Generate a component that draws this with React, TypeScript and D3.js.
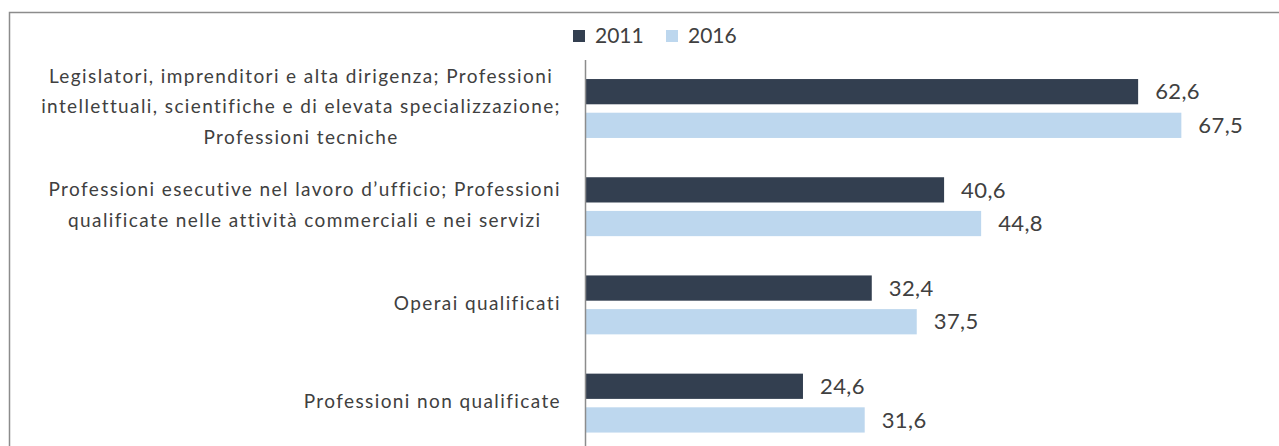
import React, { useRef, useEffect } from "react";
import * as d3 from "d3";

// category labels, already wrapped the way the chart shows them
const categoryLines = [
  [
    "Legislatori, imprenditori e alta dirigenza; Professioni",
    "intellettuali, scientifiche e di elevata specializzazione;",
    "Professioni tecniche",
  ],
  [
    "Professioni esecutive nel lavoro d\u2019ufficio; Professioni",
    "qualificate nelle attività commerciali e nei servizi",
  ],
  ["Operai qualificati"],
  ["Professioni non qualificate"],
];

const years = ["2011", "2016"];
const values2011 = [62.6, 40.6, 32.4, 24.6];
const values2016 = [67.5, 44.8, 37.5, 31.6];
const colors = ["#333f50", "#bdd7ee"];

const W = 1279;
const H = 446;

function App() {
  const svgRef = useRef(null);

  useEffect(() => {
    const svg = d3.select(svgRef.current);
    svg.selectAll("*").remove();

    const font = "Lato, 'Open Sans', sans-serif";
    const textColor = "#404040";

    // chart frame (cut off on the right and bottom)
    svg
      .append("rect")
      .attr("x", 9.5)
      .attr("y", 12.5)
      .attr("width", W + 20)
      .attr("height", H + 20)
      .attr("fill", "white")
      .attr("stroke", "#8c8c8c")
      .attr("stroke-width", 1.5);

    const keys = categoryLines.map((d, i) => i);

    const y = d3
      .scaleBand()
      .domain(keys)
      .range([59.4, 452.2])
      .paddingInner(0.4)
      .paddingOuter(0.2);

    const y1 = d3
      .scaleBand()
      .domain(years)
      .range([0, y.bandwidth()])
      .paddingInner(0.25);

    const x = d3.scaleLinear().domain([0, 80]).range([586, 586 + 80 * 8.82]);

    const rows = keys.map((k) => ({
      key: k,
      lines: categoryLines[k],
      values: [values2011[k], values2016[k]],
    }));

    // bars
    const groups = svg
      .selectAll(".group")
      .data(rows)
      .enter()
      .append("g")
      .attr("class", "group")
      .attr("transform", (d) => `translate(0, ${y(d.key)})`);

    groups
      .selectAll("rect")
      .data((d) => d.values.map((v, i) => ({ year: years[i], value: v, i })))
      .enter()
      .append("rect")
      .attr("x", x(0))
      .attr("y", (d) => y1(d.year))
      .attr("width", (d) => x(d.value) - x(0))
      .attr("height", y1.bandwidth())
      .style("fill", (d) => colors[d.i]);

    // value labels
    groups
      .selectAll("text.value")
      .data((d) => d.values.map((v, i) => ({ year: years[i], value: v })))
      .enter()
      .append("text")
      .attr("class", "value")
      .attr("x", (d) => x(d.value) + 17)
      .attr("y", (d) => y1(d.year) + y1.bandwidth() / 2)
      .attr("dy", "0.35em")
      .style("font-family", font)
      .style("font-size", "22px")
      .style("letter-spacing", "0.4px")
      .style("fill", textColor)
      .text((d) => d3.format(".1f")(d.value).replace(".", ","));

    // vertical axis line
    const yAxis = d3.axisLeft(y).tickSize(0).tickFormat(() => "");
    svg
      .append("g")
      .attr("class", "axis y-axis")
      .attr("transform", "translate(585, 0)")
      .call(yAxis)
      .call((g) => g.select(".domain").attr("stroke", "#8c8c8c").attr("stroke-width", 1.5));

    // category labels: lines centred on each other, block right-aligned near the axis
    const labelRight = 561;
    const lineH = 30.5;
    rows.forEach((row) => {
      const cy = y(row.key) + y.bandwidth() / 2 - 2;
      const n = row.lines.length;
      const t = svg
        .append("g")
        .selectAll("text")
        .data(row.lines)
        .enter()
        .append("text")
        .attr("y", (d, i) => cy + (i - (n - 1) / 2) * lineH)
        .attr("dy", "0.35em")
        .attr("text-anchor", "middle")
        .style("font-family", font)
        .style("font-size", "19px")
        .style("letter-spacing", "1.4px")
        .style("fill", textColor)
        .text((d) => d);
      let maxW = 0;
      t.each(function () {
        maxW = Math.max(maxW, this.getComputedTextLength());
      });
      t.attr("x", labelRight - maxW / 2);
    });

    // legend
    const legend = svg
      .selectAll(".legend")
      .data(years)
      .enter()
      .append("g")
      .attr("class", "legend")
      .attr("transform", (d, i) => `translate(${573 + i * 93}, 36)`);

    legend
      .append("rect")
      .attr("x", 0)
      .attr("y", -6)
      .attr("width", 12)
      .attr("height", 12)
      .style("fill", (d, i) => colors[i]);

    legend
      .append("text")
      .attr("x", 22)
      .attr("y", 0)
      .attr("dy", "0.35em")
      .style("font-family", font)
      .style("font-size", "21px")
      .style("fill", textColor)
      .text((d) => d);
  }, []);

  return (
    <svg
      ref={svgRef}
      width={W}
      height={H}
      style={{ position: "absolute", left: 0, top: 0, display: "block", background: "white" }}
    />
  );
}

export default App;
